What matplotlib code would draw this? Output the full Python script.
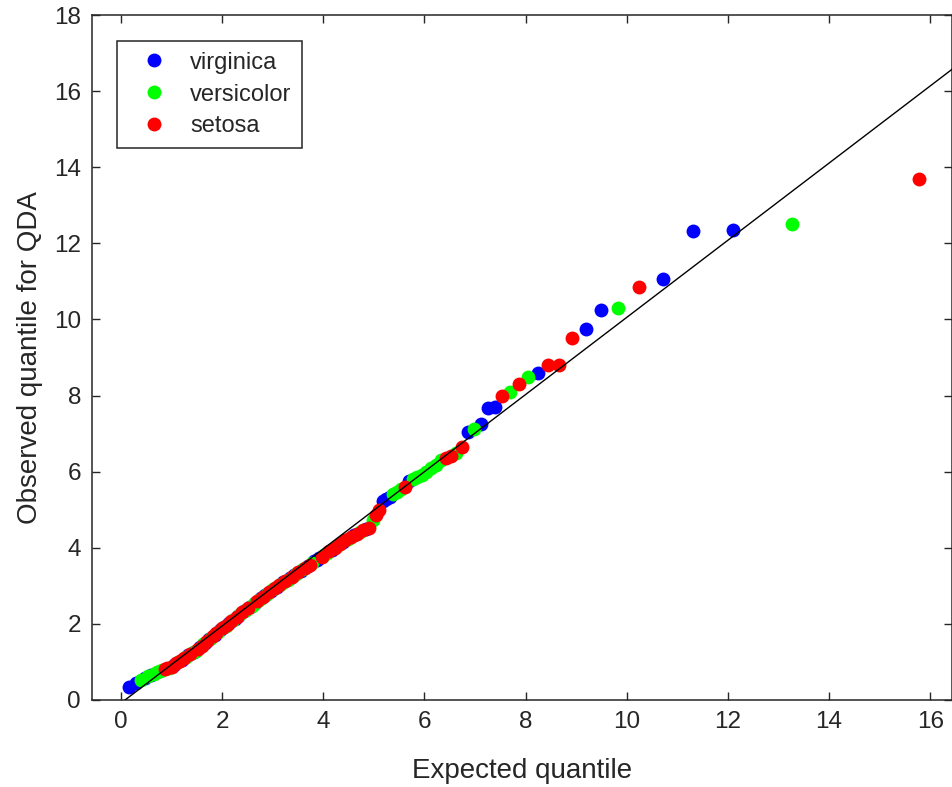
import matplotlib
matplotlib.use("Agg")
import matplotlib.pyplot as plt
import numpy as np

# ---- data ----
expected = [
    0.168, 0.297, 0.390, 0.466, 0.534, 0.598, 0.656, 0.711, 0.763, 0.813,
    0.862, 0.910, 0.954, 0.999, 1.042, 1.085, 1.127, 1.168, 1.209, 1.249,
    1.288, 1.327, 1.366, 1.405, 1.443, 1.481, 1.519, 1.556, 1.593, 1.630,
    1.667, 1.704, 1.741, 1.777, 1.814, 1.850, 1.886, 1.923, 1.959, 1.995,
    2.031, 2.068, 2.104, 2.140, 2.176, 2.213, 2.249, 2.286, 2.323, 2.359,
    2.396, 2.433, 2.470, 2.508, 2.545, 2.582, 2.620, 2.658, 2.696, 2.734,
    2.772, 2.811, 2.850, 2.889, 2.928, 2.967, 3.007, 3.047, 3.088, 3.128,
    3.169, 3.210, 3.251, 3.294, 3.336, 3.378, 3.421, 3.464, 3.509, 3.552,
    3.597, 3.642, 3.688, 3.733, 3.779, 3.826, 3.874, 3.923, 3.971, 4.020,
    4.069, 4.120, 4.171, 4.223, 4.276, 4.331, 4.383, 4.438, 4.494, 4.550,
    4.607, 4.666, 4.727, 4.786, 4.847, 4.909, 4.974, 5.039, 5.106, 5.173,
    5.242, 5.313, 5.385, 5.460, 5.537, 5.613, 5.692, 5.774, 5.858, 5.945,
    6.033, 6.125, 6.220, 6.318, 6.418, 6.524, 6.632, 6.747, 6.863, 6.985,
    7.114, 7.249, 7.390, 7.539, 7.698, 7.865, 8.044, 8.235, 8.442, 8.668,
    8.912, 9.185, 9.488, 9.834, 10.235, 10.714, 11.308, 12.093, 13.274, 15.78,
]

observed = [
    0.35, 0.45, 0.52, 0.59, 0.62, 0.66, 0.69, 0.73, 0.75, 0.78,
    0.81, 0.83, 0.85, 0.88, 0.92, 0.96, 0.99, 1.03, 1.06, 1.10,
    1.13, 1.17, 1.20, 1.24, 1.27, 1.30, 1.34, 1.39, 1.42, 1.47,
    1.51, 1.55, 1.59, 1.64, 1.67, 1.72, 1.76, 1.79, 1.84, 1.88,
    1.91, 1.95, 1.98, 2.03, 2.07, 2.10, 2.14, 2.18, 2.21, 2.25,
    2.30, 2.33, 2.37, 2.41, 2.45, 2.48, 2.52, 2.56, 2.60, 2.63,
    2.67, 2.71, 2.75, 2.79, 2.83, 2.87, 2.91, 2.94, 2.98, 3.02,
    3.05, 3.09, 3.13, 3.16, 3.20, 3.24, 3.28, 3.32, 3.36, 3.40,
    3.44, 3.48, 3.52, 3.56, 3.60, 3.64, 3.68, 3.73, 3.77, 3.82,
    3.86, 3.91, 3.95, 4.00, 4.05, 4.10, 4.14, 4.20, 4.24, 4.28,
    4.33, 4.37, 4.41, 4.46, 4.49, 4.53, 4.73, 4.85, 4.99, 5.22,
    5.28, 5.34, 5.42, 5.47, 5.55, 5.60, 5.76, 5.80, 5.85, 5.92,
    6.00, 6.10, 6.18, 6.30, 6.36, 6.42, 6.50, 6.66, 7.03, 7.12,
    7.25, 7.66, 7.70, 8.00, 8.10, 8.30, 8.50, 8.60, 8.79, 8.81,
    9.50, 9.75, 10.24, 10.29, 10.84, 11.05, 12.33, 12.35, 12.50, 13.69,
]

# species code per point: V = virginica, C = versicolor, S = setosa
species = list(
    "VVCVCVCCCC"
    "SSCSVSCSVS"
    "CVSCVCSVSC"
    "VSVCSVSCVS"
    "VCSVSCVSVC"
    "SVCSVCCVSC"
    "VSVCSVCSVS"
    "CVSCVSVCSV"
    "CSVSCVVVSC"
    "CSVSCSVSCS"
    "VSCSVSCSSV"
    "VVCCCSVCCC"
    "CCCCSSCSVC"
    "VVVSCSCVSS"
    "SVVCSVVVCS"
)

group_names = ["virginica", "versicolor", "setosa"]
group_codes = ["V", "C", "S"]
group_colors = ["#0000ff", "#00ff00", "#ff0000"]

ref_line_x = [0.08, 17.0]
ref_line_y = [0.0, 17.15]

x_ticks = [0, 2, 4, 6, 8, 10, 12, 14, 16]
y_ticks = [0, 2, 4, 6, 8, 10, 12, 14, 16, 18]

# ---- figure ----
W, H, DPI = 952, 787, 100
fig = plt.figure(figsize=(W / DPI, H / DPI), dpi=DPI)
left_px, right_px, top_px, bottom_px = 92, 951.5, 15, 700
ax = fig.add_axes([left_px / W, 1 - bottom_px / H,
                   (right_px - left_px) / W, (bottom_px - top_px) / H])

fam = ["Liberation Sans", "DejaVu Sans"]
plt.rcParams["font.family"] = fam
txt_col = "#262626"

exp_arr = np.array(expected)
obs_arr = np.array(observed)
sp_arr = np.array(species)

handles = []
for name, code, col in zip(group_names, group_codes, group_colors):
    m = sp_arr == code
    h, = ax.plot(exp_arr[m], obs_arr[m], linestyle="none", marker="o",
                 markersize=10, markerfacecolor=col, markeredgecolor="none",
                 label=name, zorder=3)
    handles.append(h)

ax.plot(ref_line_x, ref_line_y, color="black", linewidth=1.0, zorder=4)

ax.set_xlim(-0.573, 16.42)
ax.set_ylim(0, 18)
ax.set_xticks(x_ticks)
ax.set_yticks(y_ticks)

for s in ax.spines.values():
    s.set_color(txt_col)
    s.set_linewidth(1.1)
ax.tick_params(direction="in", length=6, width=1.0, color=txt_col,
               top=True, right=True, labelsize=17.5, labelcolor=txt_col,
               pad=8)
for lab in ax.get_xticklabels() + ax.get_yticklabels():
    lab.set_family(fam)

ax.set_xlabel("Expected quantile", fontsize=20, color=txt_col,
              family=fam, labelpad=18)
ax.set_ylabel("Observed quantile for QDA", fontsize=20, color=txt_col,
              family=fam, labelpad=8)

ax_w = right_px - left_px
ax_h = bottom_px - top_px
leg = ax.legend(handles=handles, loc="upper left",
                bbox_to_anchor=(25 / ax_w, 1 - 26 / ax_h),
                borderaxespad=0, fancybox=False, framealpha=1,
                edgecolor=txt_col, borderpad=0.45,
                handlelength=2.2, handletextpad=0.45, labelspacing=0.42,
                prop={"family": fam, "size": 17})
leg.get_frame().set_linewidth(1.1)
for t in leg.get_texts():
    t.set_color(txt_col)

fig.savefig("out.png", dpi=DPI)
